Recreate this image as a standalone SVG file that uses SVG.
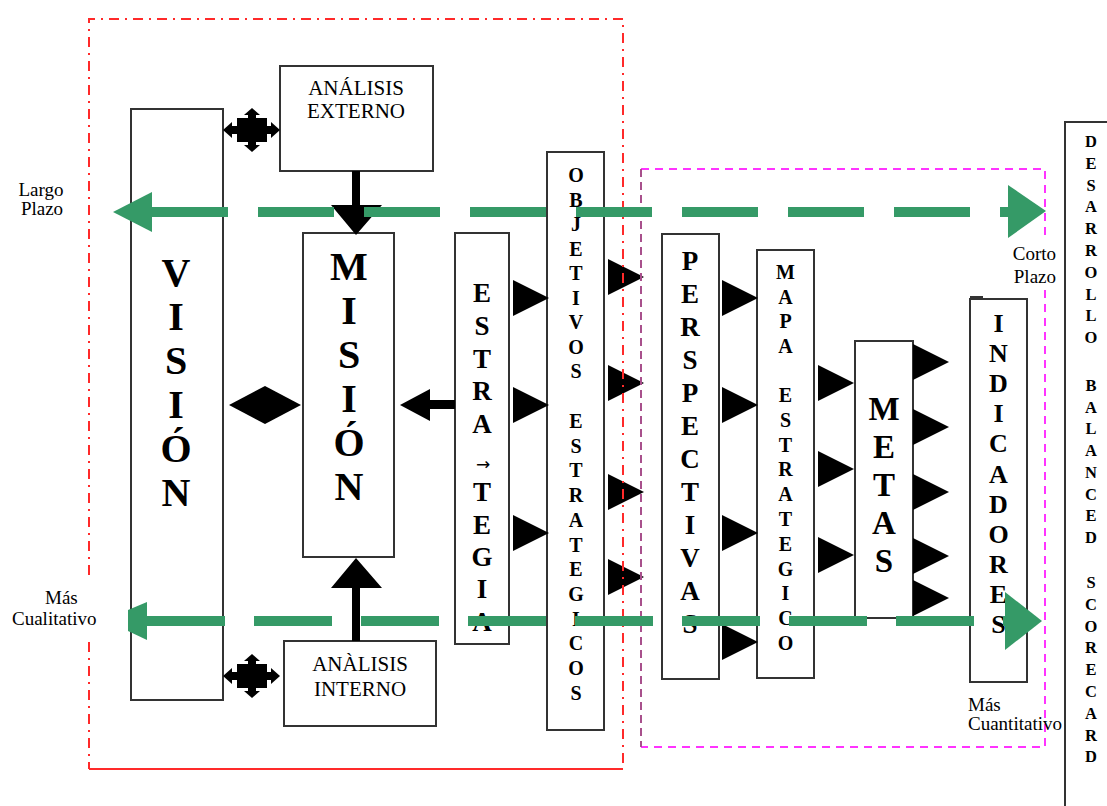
<svg xmlns="http://www.w3.org/2000/svg" width="1107" height="806" viewBox="0 0 1107 806">
<style>
.box{fill:#fff;stroke:#333;stroke-width:2}
.v{font-family:"Liberation Serif","DejaVu Serif",serif;font-weight:bold;text-anchor:middle;fill:#000}
.lbl{font-family:"Liberation Serif","DejaVu Serif",serif;font-size:19px;fill:#000}
.an{font-family:"Liberation Serif","DejaVu Serif",serif;font-size:21px;fill:#000;text-anchor:middle}
.blk{fill:#000}
.grn{fill:none;stroke:#359a67;stroke-width:10}
.gh{fill:#359a67}
.red{fill:none;stroke:#ff2a2a;stroke-width:2;stroke-dasharray:10 6 2 6}
.mag{fill:none;stroke:#ff33ff;stroke-width:2;stroke-dasharray:8 6}
.pur{fill:none;stroke:#a8508c;stroke-width:2;stroke-dasharray:8 5}
</style>
<defs>
<g id="quad">
<rect x="-15" y="-12" width="30" height="24"/>
<rect x="-22" y="-4" width="44" height="8"/>
<rect x="-4" y="-18" width="8" height="36"/>
<polygon points="-29,0 -20,-8 -20,8"/>
<polygon points="28,0 19,-8 19,8"/>
<polygon points="0,-22 -8,-15 8,-15"/>
<polygon points="0,22 -8,15 8,15"/>
</g>
<path id="tri" d="M0,-18 L36,0 L0,18 Z"/>
</defs>
<rect width="1107" height="806" fill="#fff"/>

<g id="vision">
<rect class="box" x="131" y="109" width="92" height="591"/>
<text class="v" font-size="40"><tspan x="176" y="286">V</tspan><tspan x="176" y="330">I</tspan><tspan x="176" y="374">S</tspan><tspan x="176" y="418">I</tspan><tspan x="176" y="462">Ó</tspan><tspan x="176" y="506">N</tspan></text>
</g>
<g id="analisis-externo">
<rect class="box" x="280" y="66" width="153" height="105"/>
<text class="an" x="356" y="95">ANÁLISIS</text>
<text class="an" x="356" y="118">EXTERNO</text>
</g>
<g id="mision">
<rect class="box" x="303" y="233" width="91" height="324"/>
<text class="v" font-size="40"><tspan x="349" y="280">M</tspan><tspan x="349" y="324">I</tspan><tspan x="349" y="368">S</tspan><tspan x="349" y="412">I</tspan><tspan x="349" y="456">Ó</tspan><tspan x="349" y="500">N</tspan></text>
</g>
<g id="analisis-interno">
<rect class="box" x="284" y="641" width="152" height="85"/>
<text class="an" x="360" y="671">ANÀLISIS</text>
<text class="an" x="360" y="696">INTERNO</text>
</g>
<g id="estrategia">
<rect class="box" x="455" y="233" width="54" height="411"/>
<text class="v" font-size="27"><tspan x="482" y="302">E</tspan><tspan x="482" y="335">S</tspan><tspan x="482" y="368">T</tspan><tspan x="482" y="400">R</tspan><tspan x="482" y="433">A</tspan><tspan x="482" y="501">T</tspan><tspan x="482" y="534">E</tspan><tspan x="482" y="566">G</tspan><tspan x="482" y="598">I</tspan><tspan x="482" y="631">A</tspan></text>
<text x="483" y="470" font-family="DejaVu Sans, sans-serif" font-size="17" text-anchor="middle">→</text>
</g>
<g id="objetivos">
<rect class="box" x="547" y="152" width="57" height="578"/>
<text class="v" font-size="20"><tspan x="576" y="182">O</tspan><tspan x="576" y="206.5">B</tspan><tspan x="576" y="231">J</tspan><tspan x="576" y="255.5">E</tspan><tspan x="576" y="280">T</tspan><tspan x="576" y="304.5">I</tspan><tspan x="576" y="329">V</tspan><tspan x="576" y="353.5">O</tspan><tspan x="576" y="378">S</tspan><tspan x="576" y="428">E</tspan><tspan x="576" y="452.7">S</tspan><tspan x="576" y="477.4">T</tspan><tspan x="576" y="502">R</tspan><tspan x="576" y="526.8">A</tspan><tspan x="576" y="551.5">T</tspan><tspan x="576" y="576">E</tspan><tspan x="576" y="601">G</tspan><tspan x="576" y="625.6">I</tspan><tspan x="576" y="650">C</tspan><tspan x="576" y="675">O</tspan><tspan x="576" y="700">S</tspan></text>
</g>
<g id="perspectivas">
<rect class="box" x="662" y="234" width="57" height="445"/>
<text class="v" font-size="27"><tspan x="690" y="270">P</tspan><tspan x="690" y="303">E</tspan><tspan x="690" y="336">R</tspan><tspan x="690" y="369">S</tspan><tspan x="690" y="402">P</tspan><tspan x="690" y="435">E</tspan><tspan x="690" y="468">C</tspan><tspan x="690" y="501">T</tspan><tspan x="690" y="534">I</tspan><tspan x="690" y="567">V</tspan><tspan x="690" y="600">A</tspan><tspan x="690" y="633">S</tspan></text>
</g>
<g id="mapa">
<rect class="box" x="757" y="250" width="57" height="428"/>
<text class="v" font-size="20"><tspan x="785.5" y="279">M</tspan><tspan x="785.5" y="303.5">A</tspan><tspan x="785.5" y="328">P</tspan><tspan x="785.5" y="352.5">A</tspan><tspan x="785.5" y="402">E</tspan><tspan x="785.5" y="426.8">S</tspan><tspan x="785.5" y="451.6">T</tspan><tspan x="785.5" y="476.4">R</tspan><tspan x="785.5" y="501.2">A</tspan><tspan x="785.5" y="526">T</tspan><tspan x="785.5" y="550.8">E</tspan><tspan x="785.5" y="575.6">G</tspan><tspan x="785.5" y="600.4">I</tspan><tspan x="785.5" y="625.2">C</tspan><tspan x="785.5" y="650">O</tspan></text>
</g>
<g id="metas">
<rect class="box" x="855" y="341" width="58" height="277"/>
<text class="v" font-size="33"><tspan x="884" y="420">M</tspan><tspan x="884" y="458">E</tspan><tspan x="884" y="496">T</tspan><tspan x="884" y="534">A</tspan><tspan x="884" y="572">S</tspan></text>
</g>
<g id="indicadores">
<rect class="box" x="970" y="299" width="57" height="383"/>
<path d="M970,297 H983" stroke="#333" stroke-width="2"/>
<text class="v" font-size="26"><tspan x="998.5" y="332">I</tspan><tspan x="998.5" y="362">N</tspan><tspan x="998.5" y="392">D</tspan><tspan x="998.5" y="422">I</tspan><tspan x="998.5" y="452">C</tspan><tspan x="998.5" y="482.5">A</tspan><tspan x="998.5" y="512.5">D</tspan><tspan x="998.5" y="543">O</tspan><tspan x="998.5" y="573">R</tspan><tspan x="998.5" y="603">E</tspan><tspan x="998.5" y="633">S</tspan></text>
</g>
<g id="desarrollo-bsc">
<rect class="box" x="1065" y="122" width="60" height="700"/>
<text class="v" font-size="16.5"><tspan x="1091" y="147">D</tspan><tspan x="1091" y="168.8">E</tspan><tspan x="1091" y="190.6">S</tspan><tspan x="1091" y="212.4">A</tspan><tspan x="1091" y="234.2">R</tspan><tspan x="1091" y="256">R</tspan><tspan x="1091" y="277.8">O</tspan><tspan x="1091" y="299.6">L</tspan><tspan x="1091" y="321.4">L</tspan><tspan x="1091" y="343.2">O</tspan><tspan x="1091" y="391">B</tspan><tspan x="1091" y="412.7">A</tspan><tspan x="1091" y="434.4">L</tspan><tspan x="1091" y="456.1">A</tspan><tspan x="1091" y="477.8">N</tspan><tspan x="1091" y="499.5">C</tspan><tspan x="1091" y="521.2">E</tspan><tspan x="1091" y="542.9">D</tspan><tspan x="1091" y="588">S</tspan><tspan x="1091" y="609.8">C</tspan><tspan x="1091" y="631.6">O</tspan><tspan x="1091" y="653.4">R</tspan><tspan x="1091" y="675.2">E</tspan><tspan x="1091" y="697">C</tspan><tspan x="1091" y="718.8">A</tspan><tspan x="1091" y="740.6">R</tspan><tspan x="1091" y="762.4">D</tspan></text>
</g>

<g id="connectors" class="blk">
<path d="M352,171 H360 V205 H382 L356,235 L331,205 H352 Z"/>
<path d="M352,641 H360 V588 H382 L356,558 L331,588 H352 Z"/>
<path d="M455,400 V409 H430 V421 L400,405 L430,389 V400 Z"/>
<path d="M229,405 L265,386 L301,405 L265,424 Z"/>
<use href="#quad" x="252" y="130"/>
<use href="#quad" x="252" y="676"/>
<use href="#tri" x="513" y="298"/>
<use href="#tri" x="513" y="405"/>
<use href="#tri" x="513" y="533"/>
<use href="#tri" x="608" y="277"/>
<use href="#tri" x="608" y="383"/>
<use href="#tri" x="608" y="492"/>
<use href="#tri" x="608" y="577"/>
<use href="#tri" x="722" y="298"/>
<use href="#tri" x="722" y="405"/>
<use href="#tri" x="722" y="533"/>
<use href="#tri" x="722" y="642"/>
<use href="#tri" x="818" y="383"/>
<use href="#tri" x="818" y="469"/>
<use href="#tri" x="818" y="555"/>
<use href="#tri" x="913" y="362"/>
<use href="#tri" x="913" y="427"/>
<use href="#tri" x="913" y="492"/>
<use href="#tri" x="913" y="556"/>
<use href="#tri" x="913" y="598"/>
</g>

<g id="regions">
<path class="red" d="M89,575 V19 H623 V769"/>
<path class="red" d="M89,642 V769"/>
<path d="M89,769 H623" stroke="#ff2a2a" stroke-width="2"/>
<path class="mag" d="M641,169 H1045 V241"/>
<path class="mag" d="M1045,290 V747 H641"/>
<path class="pur" d="M641,169 V747"/>
</g>

<g id="labels">
<text class="lbl" x="41" y="196" text-anchor="middle">Largo</text>
<text class="lbl" x="42" y="215" text-anchor="middle">Plazo</text>
<text class="lbl" x="1056" y="260" text-anchor="end">Corto</text>
<text class="lbl" x="1056" y="283" text-anchor="end">Plazo</text>
<text class="lbl" x="45" y="604">Más</text>
<text class="lbl" x="12" y="625">Cualitativo</text>
<text class="lbl" x="968" y="711">Más</text>
<text class="lbl" x="968" y="730">Cuantitativo</text>
</g>

<g id="time-axes">
<path class="grn" d="M152,212 H1008" stroke-dasharray="76 30"/>
<polygon class="gh" points="113,212 152,192 152,232"/>
<polygon class="gh" points="1008,185 1046,211 1008,238"/>
<path class="grn" d="M147,621 H1005" stroke-dasharray="78 29"/>
<polygon class="gh" points="128,610 147,602 147,640 128,631"/>
<polygon class="gh" points="1005,592 1042,621 1005,650"/>
</g>
</svg>
